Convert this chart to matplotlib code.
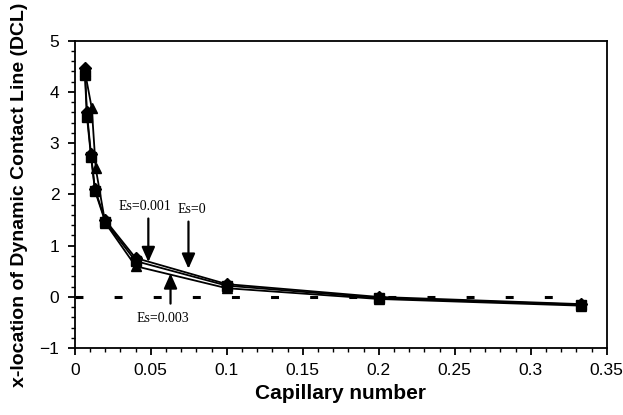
import matplotlib
matplotlib.use("Agg")
import matplotlib.pyplot as plt
from matplotlib.ticker import MultipleLocator

# Data
x_es0 = [0.00667, 0.008, 0.0107, 0.0133, 0.02, 0.04, 0.1, 0.2, 0.333]
y_es0 = [4.46, 3.60, 2.78, 2.10, 1.50, 0.76, 0.25, 0.00, -0.14]

x_es001 = [0.00667, 0.008, 0.0107, 0.0133, 0.02, 0.04, 0.1, 0.2, 0.333]
y_es001 = [4.33, 3.52, 2.74, 2.07, 1.47, 0.70, 0.22, -0.02, -0.15]

x_es003 = [0.00667, 0.0112, 0.0138, 0.02, 0.04, 0.1, 0.2, 0.333]
y_es003 = [4.40, 3.68, 2.51, 1.45, 0.60, 0.17, -0.04, -0.17]

zero_x = [0.0, 0.33]
zero_y = [0.0, 0.0]

xlabel = "Capillary number"
ylabel = "x-location of Dynamic Contact Line (DCL)"

plt.rcParams['font.family'] = ['Liberation Sans', 'DejaVu Sans']

fig = plt.figure(figsize=(6.23, 4.15), dpi=100)
ax = fig.add_axes([0.12, 0.161, 0.854, 0.741])

ax.plot(zero_x, zero_y, color='black', lw=2.2, linestyle=(0, (2.6, 10.2)),
        solid_capstyle='butt', dash_capstyle='butt')

ax.plot(x_es003, y_es003, color='black', lw=1.3, marker='^', markersize=7.5)
ax.plot(x_es001, y_es001, color='black', lw=1.3, marker='s', markersize=6.5)
ax.plot(x_es0, y_es0, color='black', lw=1.3, marker='D', markersize=6)

ax.set_xlim(0, 0.35)
ax.set_ylim(-1, 5)
ax.xaxis.set_major_locator(MultipleLocator(0.05))
ax.xaxis.set_minor_locator(MultipleLocator(0.01))
ax.yaxis.set_major_locator(MultipleLocator(1))
ax.yaxis.set_minor_locator(MultipleLocator(0.2))
ax.set_xticks([0, 0.05, 0.1, 0.15, 0.2, 0.25, 0.3, 0.35])
ax.set_xticklabels(['0', '0.05', '0.1', '0.15', '0.2', '0.25', '0.3', '0.35'])
ax.tick_params(which='major', direction='out', length=5, width=1.3, labelsize=12.5, pad=6)
ax.tick_params(which='minor', direction='out', length=3, width=1.0)
for s in ax.spines.values():
    s.set_linewidth(1.3)

ax.set_xlabel(xlabel, fontsize=15, fontweight='bold', labelpad=4)
ax.set_ylabel(ylabel, fontsize=14, fontweight='bold', labelpad=8)

serif = ['Liberation Serif', 'DejaVu Serif']
ap = dict(arrowstyle='-|>,head_length=0.9,head_width=0.4', color='black', lw=1.6,
          shrinkA=0, shrinkB=0)
ax.annotate('', xy=(0.0484, 0.68), xytext=(0.0484, 1.53), arrowprops=ap)
ax.text(0.046, 1.64, 'Es=0.001', fontsize=10, family=serif, ha='center', va='bottom')
ax.annotate('', xy=(0.0748, 0.55), xytext=(0.0748, 1.47), arrowprops=ap)
ax.text(0.077, 1.58, 'Es=0', fontsize=10, family=serif, ha='center', va='bottom')
ax.annotate('', xy=(0.0630, 0.46), xytext=(0.0630, -0.13), arrowprops=ap)
ax.text(0.058, -0.30, 'Es=0.003', fontsize=10, family=serif, ha='center', va='top')

fig.savefig('out.png', dpi=100)
